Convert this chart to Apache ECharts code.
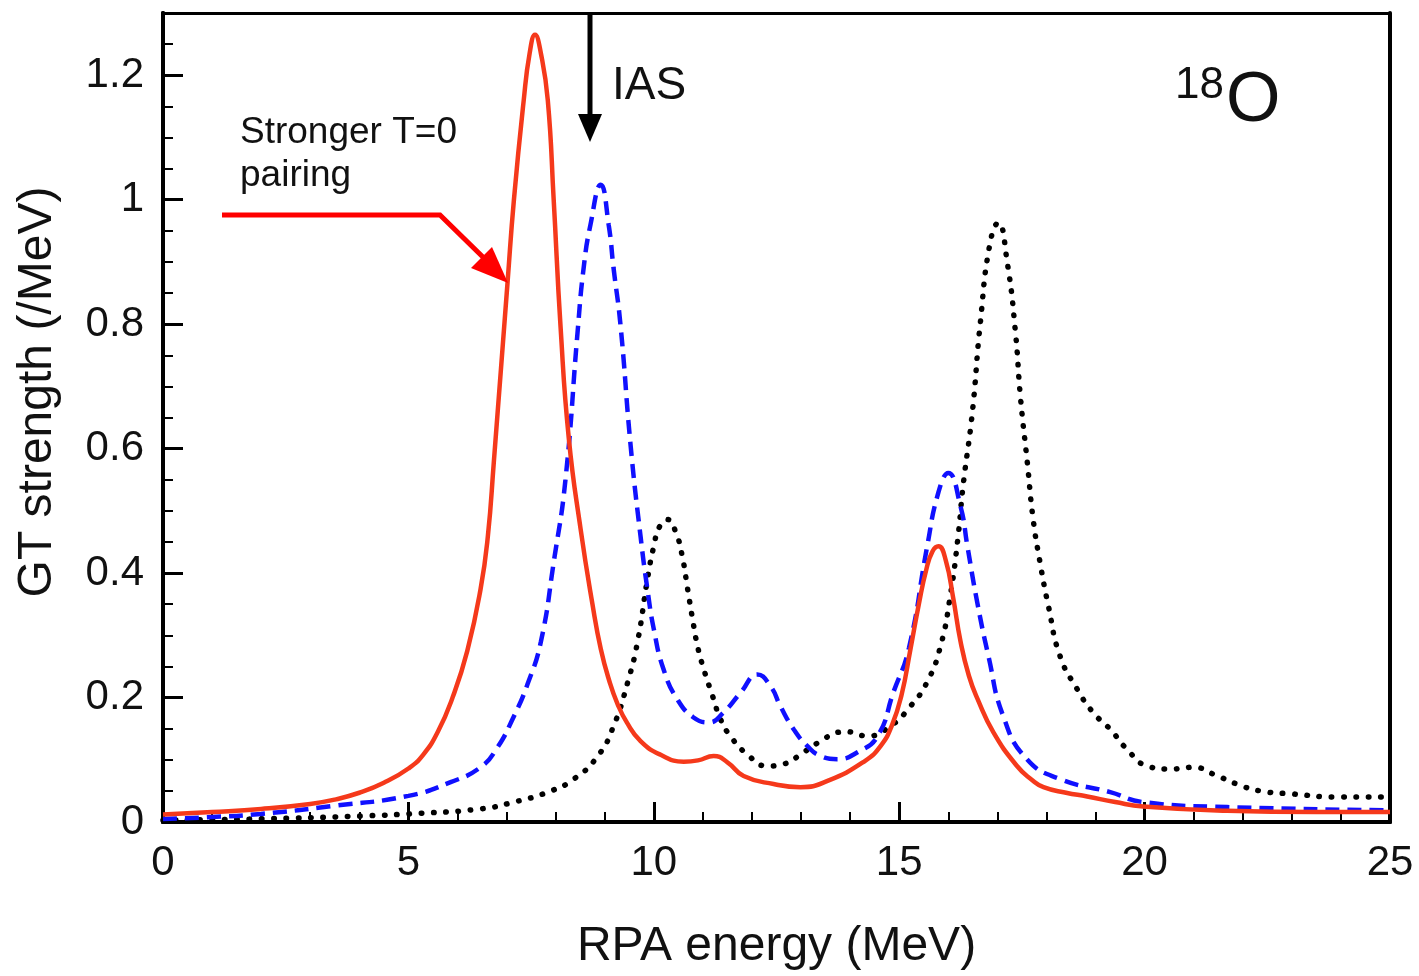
<!DOCTYPE html>
<html>
<head>
<meta charset="utf-8">
<script src="https://cdn.jsdelivr.net/npm/echarts@6/dist/echarts.min.js"></script>
<style>
html,body{margin:0;padding:0;background:#fff;}
#chart{width:1419px;height:976px;}
</style>
</head>
<body>
<div id="chart"></div>
<script>
// ---- data ----
const xTicks = [0, 5, 10, 15, 20, 25];
const yTicks = [0, 0.2, 0.4, 0.6, 0.8, 1, 1.2];

// red solid: stronger T=0 pairing
const redE = [0,1,2,3,3.5,4,4.5,5,5.3,5.6,5.9,6.2,6.47,6.62,6.74,7.02,7.15,7.35,7.47,7.58,7.7,7.84,7.96,8.1,8.27,8.51,8.75,8.92,9.1,9.26,9.45,9.73,10.14,10.61,10.9,11.22,11.5,11.83,12.44,12.99,13.54,14.3,14.62,14.85,15.05,15.23,15.4,15.55,15.68,15.8,15.95,16.1,16.25,16.42,16.6,16.92,17.4,17.7,17.94,18.4,18.83,19.4,19.97,21.68,23.5,25];
const redS = [0.012,0.016,0.021,0.029,0.036,0.047,0.063,0.086,0.108,0.145,0.2,0.275,0.374,0.46,0.578,0.867,1.0,1.16,1.235,1.265,1.235,1.16,1.0,0.796,0.615,0.47,0.35,0.278,0.225,0.19,0.16,0.13,0.108,0.097,0.099,0.106,0.096,0.074,0.061,0.056,0.066,0.098,0.122,0.155,0.205,0.278,0.35,0.405,0.435,0.443,0.42,0.36,0.29,0.235,0.197,0.144,0.09,0.068,0.056,0.047,0.041,0.032,0.025,0.018,0.016,0.016];

// blue dashed
const blueE = [0,1,2,3.49,5,5.86,6.47,6.8,7.15,7.43,7.7,7.96,8.2,8.45,8.57,8.71,8.92,9.08,9.18,9.32,9.53,9.73,9.87,10.0,10.2,10.48,10.81,11.12,11.42,11.77,12.11,12.38,12.58,12.85,13.13,13.4,13.74,14.15,14.56,14.88,15.2,15.57,15.8,16.0,16.25,16.39,16.59,16.82,17.12,17.6,18.28,19.3,19.97,21.68,25];
const blueS = [0.005,0.008,0.013,0.026,0.042,0.064,0.088,0.118,0.17,0.222,0.29,0.417,0.55,0.79,0.89,0.96,1.024,0.96,0.89,0.8,0.603,0.459,0.374,0.31,0.245,0.197,0.168,0.16,0.176,0.208,0.237,0.218,0.186,0.149,0.122,0.106,0.101,0.112,0.138,0.208,0.28,0.443,0.53,0.561,0.507,0.443,0.353,0.266,0.17,0.101,0.069,0.048,0.032,0.024,0.019];

// black dotted
const blackE = [0,2,4.17,5,6.47,7.15,7.84,8.37,8.86,9.18,9.47,9.67,9.87,10.0,10.12,10.28,10.45,10.58,10.69,10.79,10.89,11.02,11.2,11.36,11.56,11.9,12.31,12.64,13.05,13.46,13.74,13.95,14.35,14.82,15.23,15.57,15.84,16.04,16.2,16.3,16.49,16.65,16.85,17.02,17.2,17.37,17.47,17.61,17.73,17.87,18.04,18.28,18.63,18.95,19.3,19.64,20.05,20.52,21.0,21.4,21.88,22.35,23.03,23.92,25];
const blackS = [0.003,0.005,0.01,0.013,0.021,0.032,0.048,0.069,0.106,0.154,0.225,0.29,0.39,0.443,0.475,0.486,0.465,0.427,0.374,0.326,0.283,0.245,0.202,0.165,0.138,0.109,0.09,0.093,0.112,0.133,0.144,0.145,0.138,0.154,0.186,0.225,0.282,0.363,0.459,0.539,0.658,0.8,0.93,0.963,0.9,0.786,0.683,0.578,0.486,0.417,0.347,0.266,0.213,0.176,0.149,0.117,0.09,0.085,0.088,0.077,0.061,0.05,0.045,0.04,0.04];

const iasEnergy = 8.69;

function pairs(xs, ys){ return xs.map((x,i)=>[x, ys[i]]); }

const FONT = '"Liberation Sans", Arial, Helvetica, sans-serif';
const chart = echarts.init(document.getElementById('chart'), null, {renderer:'canvas'});

const fmtY = v => {
  const k = v / 0.2;
  if (Math.abs(k - Math.round(k)) > 1e-6) return '';
  return String(Number(v.toFixed(2)));
};
const frameAxis = (pos, w) => ({
  type:'value', position:pos,
  axisLine:{show:true, onZero:false, lineStyle:{color:'#000', width:w}},
  axisTick:{show:false}, axisLabel:{show:false}, splitLine:{show:false}
});

const xTop = Object.assign(frameAxis('top', 3), {min:0, max:25});
const yRight = Object.assign(frameAxis('right', 4), {min:0, max:1.3});

const option = {
  backgroundColor: '#ffffff',
  animation: false,
  grid: {left:163, right:29, top:13, bottom:152},
  xAxis: [
    {type:'value', min:0, max:25, interval:5, position:'bottom',
     axisLine:{show:true, onZero:false, lineStyle:{color:'#000', width:4}},
     axisTick:{show:true, inside:true, length:20, lineStyle:{color:'#000', width:3}},
     axisLabel:{show:true, margin:20, color:'#111', fontSize:42, fontFamily:FONT},
     splitLine:{show:false},
     name:'RPA energy (MeV)', nameLocation:'middle', nameGap:101,
     nameTextStyle:{color:'#111', fontSize:48, fontFamily:FONT}},
    {type:'value', min:0, max:25, interval:1, position:'bottom',
     axisLine:{show:true, onZero:false, lineStyle:{color:'#000', width:4}},
     axisTick:{show:true, inside:true, length:10, lineStyle:{color:'#000', width:2}},
     axisLabel:{show:false}, splitLine:{show:false}},
    xTop
  ],
  yAxis: [
    {type:'value', min:0, max:1.3, interval:0.2, position:'left',
     axisLine:{show:true, onZero:false, lineStyle:{color:'#000', width:4}},
     axisTick:{show:true, inside:true, length:20, lineStyle:{color:'#000', width:3}},
     axisLabel:{show:true, margin:19, color:'#111', fontSize:42, fontFamily:FONT, formatter:fmtY},
     splitLine:{show:false}},
    {type:'value', min:0, max:1.3, interval:0.05, position:'left',
     axisLine:{show:true, onZero:false, lineStyle:{color:'#000', width:4}},
     axisTick:{show:true, inside:true, length:10, lineStyle:{color:'#000', width:2}},
     axisLabel:{show:false}, splitLine:{show:false}},
    yRight
  ],
  series: [
    {type:'line', name:'black', xAxisIndex:0, yAxisIndex:0, data:pairs(blackE, blackS),
     showSymbol:false, smooth:0.5, z:3,
     lineStyle:{color:'#000', width:5.5, type:[0.5, 11.8], cap:'round'}},
    {type:'line', name:'blue', xAxisIndex:0, yAxisIndex:0, data:pairs(blueE, blueS),
     showSymbol:false, smooth:0.5, z:4,
     lineStyle:{color:'#1010ff', width:4.5, type:[14, 8]}},
    {type:'line', name:'red', xAxisIndex:0, yAxisIndex:0, data:pairs(redE, redS),
     showSymbol:false, smooth:0.5, z:5,
     lineStyle:{color:'#f5391b', width:4.5}}
  ]
};
chart.setOption(option);

// annotations positioned via the chart's coordinate system
const iasTop = chart.convertToPixel({xAxisIndex:0, yAxisIndex:0}, [iasEnergy, 1.3]);
const ax = Math.round(iasTop[0]);
const ay = Math.round(iasTop[1]);
chart.setOption({
  graphic: [
    {type:'line', shape:{x1:ax, y1:ay, x2:ax, y2:120}, style:{stroke:'#000', lineWidth:5}, z:10},
    {type:'polygon', shape:{points:[[ax-12,114],[ax+12,114],[ax,142]]}, style:{fill:'#000'}, z:10},
    {type:'text', x:612, y:63, style:{text:'IAS', font:'46px '+FONT, fill:'#111', textVerticalAlign:'top'}, z:10},
    {type:'text', x:1175, y:64, style:{text:'18', font:'44px '+FONT, fill:'#111', textVerticalAlign:'top'}, z:10},
    {type:'text', x:1226, y:67, style:{text:'O', font:'70px '+FONT, fill:'#111', textVerticalAlign:'top'}, z:10},
    {type:'text', x:240, y:111, style:{text:'Stronger T=0\npairing', font:'37px '+FONT, lineHeight:43, fill:'#111', textVerticalAlign:'top'}, z:10},
    {type:'polyline', shape:{points:[[222,215],[440,215],[488,262]]}, style:{stroke:'#ff0000', lineWidth:5, fill:null}, z:10},
    {type:'polygon', shape:{points:[[508,283],[471,268],[492,247]]}, style:{fill:'#ff0000'}, z:10},
    {type:'text', x:38, y:392, rotation:Math.PI/2,
     style:{text:'GT strength (/MeV)', font:'48px '+FONT, fill:'#111', textAlign:'center', textVerticalAlign:'middle'}, z:10}
  ]
});
</script>
</body>
</html>
